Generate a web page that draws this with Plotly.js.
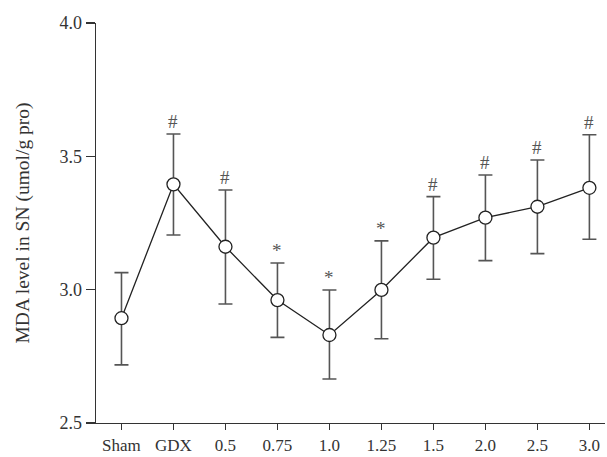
<!DOCTYPE html>
<html>
<head>
<meta charset="utf-8">
<script src="https://cdn.plot.ly/plotly-3.0.1.min.js"></script>
<style>html,body{margin:0;padding:0;background:#fff;}#chart{width:607px;height:457px;}</style>
</head>
<body>
<div id="chart"></div>
<script>
const categories = ["Sham", "GDX", "0.5", "0.75", "1.0", "1.25", "1.5", "2.0", "2.5", "3.0"];
const means = [2.893, 3.395, 3.161, 2.961, 2.830, 2.999, 3.195, 3.270, 3.311, 3.382];
const upper = [3.064, 3.584, 3.374, 3.100, 2.999, 3.183, 3.349, 3.430, 3.486, 3.581];
const lower = [2.718, 3.205, 2.946, 2.821, 2.665, 2.816, 3.039, 3.109, 3.135, 3.189];
const marks = ["", "#", "#", "*", "*", "*", "#", "#", "#", "#"];

const xIdx = categories.map((_, i) => i);
const errPlus = upper.map((u, i) => u - means[i]);
const errMinus = lower.map((l, i) => means[i] - l);

const serif = "Liberation Serif, Times New Roman, serif";

const trace = {
  x: xIdx,
  y: means,
  type: "scatter",
  mode: "lines+markers",
  line: {color: "#222", width: 1.3},
  marker: {symbol: "circle", size: 13, color: "#fff", line: {color: "#222", width: 1.3}},
  error_y: {
    type: "data", symmetric: false,
    array: errPlus, arrayminus: errMinus,
    color: "#555", thickness: 1.6, width: 7
  },
  cliponaxis: false,
  hoverinfo: "skip"
};

const annotations = marks.map((m, i) => m ? {
  x: xIdx[i], y: upper[i], xref: "x", yref: "y",
  text: m, showarrow: false, yanchor: "bottom", yshift: 0,
  font: {family: serif, size: 19, color: "#555"}
} : null).filter(a => a);

const layout = {
  width: 607, height: 457,
  margin: {l: 96, r: 2, t: 23, b: 34},
  paper_bgcolor: "#fff", plot_bgcolor: "#fff",
  showlegend: false,
  font: {family: serif, size: 18, color: "#333"},
  xaxis: {
    range: [-0.49, 9.3],
    tickmode: "array", tickvals: xIdx, ticktext: categories,
    showgrid: false, zeroline: false,
    showline: true, linecolor: "#333", linewidth: 1.3,
    ticks: "outside", ticklen: 6, tickwidth: 1.3, tickcolor: "#333",
    tickfont: {family: serif, size: 17, color: "#333"},
    fixedrange: true
  },
  yaxis: {
    range: [2.5, 4.0],
    tickvals: [2.5, 3.0, 3.5, 4.0], ticktext: ["2.5", "3.0", "3.5", "4.0"],
    showgrid: false, zeroline: false,
    showline: true, linecolor: "#333", linewidth: 1.3,
    ticks: "outside", ticklen: 9, tickwidth: 1.3, tickcolor: "#333",
    tickfont: {family: serif, size: 18, color: "#333"},
    title: {text: "MDA level in SN (umol/g pro)", font: {family: serif, size: 19.5, color: "#333"}, standoff: 24},
    fixedrange: true
  },
  annotations: annotations
};

Plotly.newPlot("chart", [trace], layout, {displayModeBar: false, staticPlot: true});
</script>
</body>
</html>
